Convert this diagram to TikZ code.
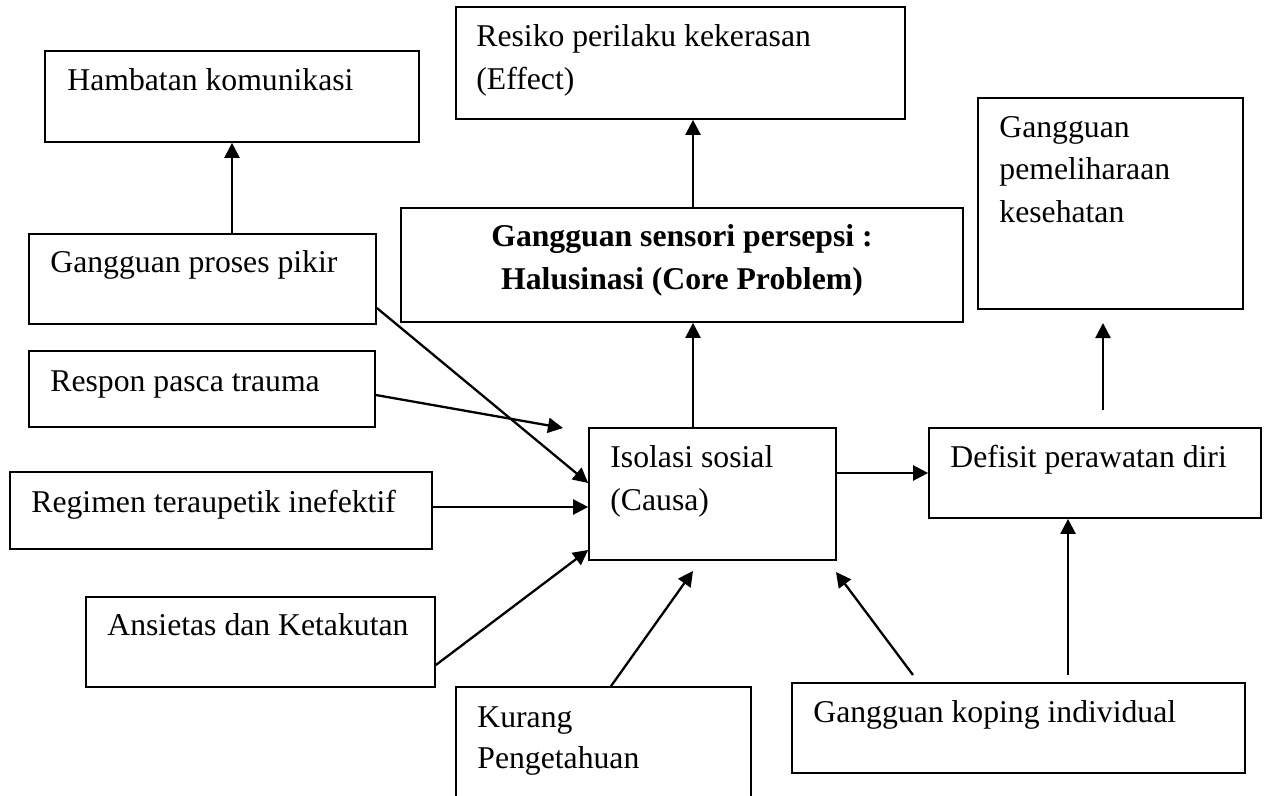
\documentclass[tikz,border=0pt]{standalone}
\usepackage{fontspec}
\setmainfont{Liberation Serif}
\usetikzlibrary{arrows.meta,fit,calc}
\begin{document}
\begin{tikzpicture}[x=0.5pt,y=-0.5pt,
  box/.style={draw=black,line width=0.85pt,inner sep=0pt,rectangle},
  txt/.style={inner sep=0pt,anchor=base west,font=\fontsize{15.85}{21}\selectfont},
  btxt/.style={inner sep=0pt,anchor=base,font=\fontsize{15.85}{21}\selectfont\bfseries},
  arr/.style={line width=1.15pt,-{Triangle[length=7.5pt,width=7.5pt]}},
  ln/.style={line width=1.15pt}]
\useasboundingbox (0,0) rectangle (1267,796);
\clip (0,0) rectangle (1267,796);
% boxes
\node[box,fit={(45,51) (419,142)}] (hambatan) {};
\node[box,fit={(456,7) (905,119)}] (resiko) {};
\node[box,fit={(978,98) (1243,309)}] (pemeliharaan) {};
\node[box,fit={(401,208) (963,322)}] (core) {};
\node[box,fit={(29,234) (376,324)}] (proses) {};
\node[box,fit={(29,351) (375,427)}] (respon) {};
\node[box,fit={(589,428) (836,560)}] (isolasi) {};
\node[box,fit={(929,428) (1261,518)}] (defisit) {};
\node[box,fit={(10,472) (432,549)}] (regimen) {};
\node[box,fit={(86,597) (435,687)}] (ansietas) {};
\node[box,fit={(456,687) (751,820)}] (kurang) {};
\node[box,fit={(792,683) (1245,773)}] (koping) {};
% texts
\node[txt] (hambatan-t) at (67,91) {Hambatan komunikasi};
\node[txt] (resiko-t1) at (476,47) {Resiko perilaku kekerasan};
\node[txt] (resiko-t2) at (476,90) {(Effect)};
\node[txt] (pem-t1) at (999,138) {Gangguan};
\node[txt] (pem-t2) at (999,180) {pemeliharaan};
\node[txt] (pem-t3) at (999,223) {kesehatan};
\node[btxt] (core-t1) at (682,247) {Gangguan sensori persepsi :};
\node[btxt] (core-t2) at (682,290) {Halusinasi (Core Problem)};
\node[txt] (proses-t) at (50,273) {Gangguan proses pikir};
\node[txt] (respon-t) at (50,391) {Respon pasca trauma};
\node[txt] (regimen-t) at (31,512) {Regimen teraupetik inefektif};
\node[txt] (ansietas-t) at (107,635) {Ansietas dan Ketakutan};
\node[txt] (isolasi-t1) at (610,467) {Isolasi sosial};
\node[txt] (isolasi-t2) at (610,510) {(Causa)};
\node[txt] (defisit-t) at (950,467) {Defisit perawatan diri};
\node[txt] (kurang-t1) at (477,727) {Kurang};
\node[txt] (kurang-t2) at (477,768) {Pengetahuan};
\node[txt] (koping-t) at (813,722) {Gangguan koping individual};
% free ends
\coordinate (cx) at (693,0);
\coordinate (respon-end) at (563,428);
\coordinate (kurang-end) at (693,571);
\coordinate (koping-end) at (836,572);
\coordinate (kopstart) at (913,675);
\coordinate (defstart) at (1068,675);
\coordinate (pem-start) at (1103,410);
\coordinate (pem-end) at (1103,323);
% connectors
\draw[arr] (proses.north -| hambatan.south) -- (hambatan.south);
\draw[arr] (core.north -| cx) -- (resiko.south -| cx);
\draw[arr] (isolasi.north -| cx) -- (core.south -| cx);
\draw[arr] (proses.east |- 0,308) -- (isolasi.west |- 0,483);
\draw[arr] (respon.east |- 0,395) -- (respon-end);
\draw[arr] (regimen.east |- 0,507) -- (isolasi.west |- 0,507);
\draw[arr] (ansietas.east |- 0,665) -- (isolasi.west |- 0,550);
\draw[arr] (kurang.north -| 611,0) -- (kurang-end);
\draw[arr] (kopstart) -- (koping-end);
\draw[arr] (isolasi.east |- 0,473) -- (defisit.west |- 0,473);
\draw[arr] (defstart) -- (defisit.south -| defstart);
\draw[arr] (pem-start) -- (pem-end);
\end{tikzpicture}
\end{document}
